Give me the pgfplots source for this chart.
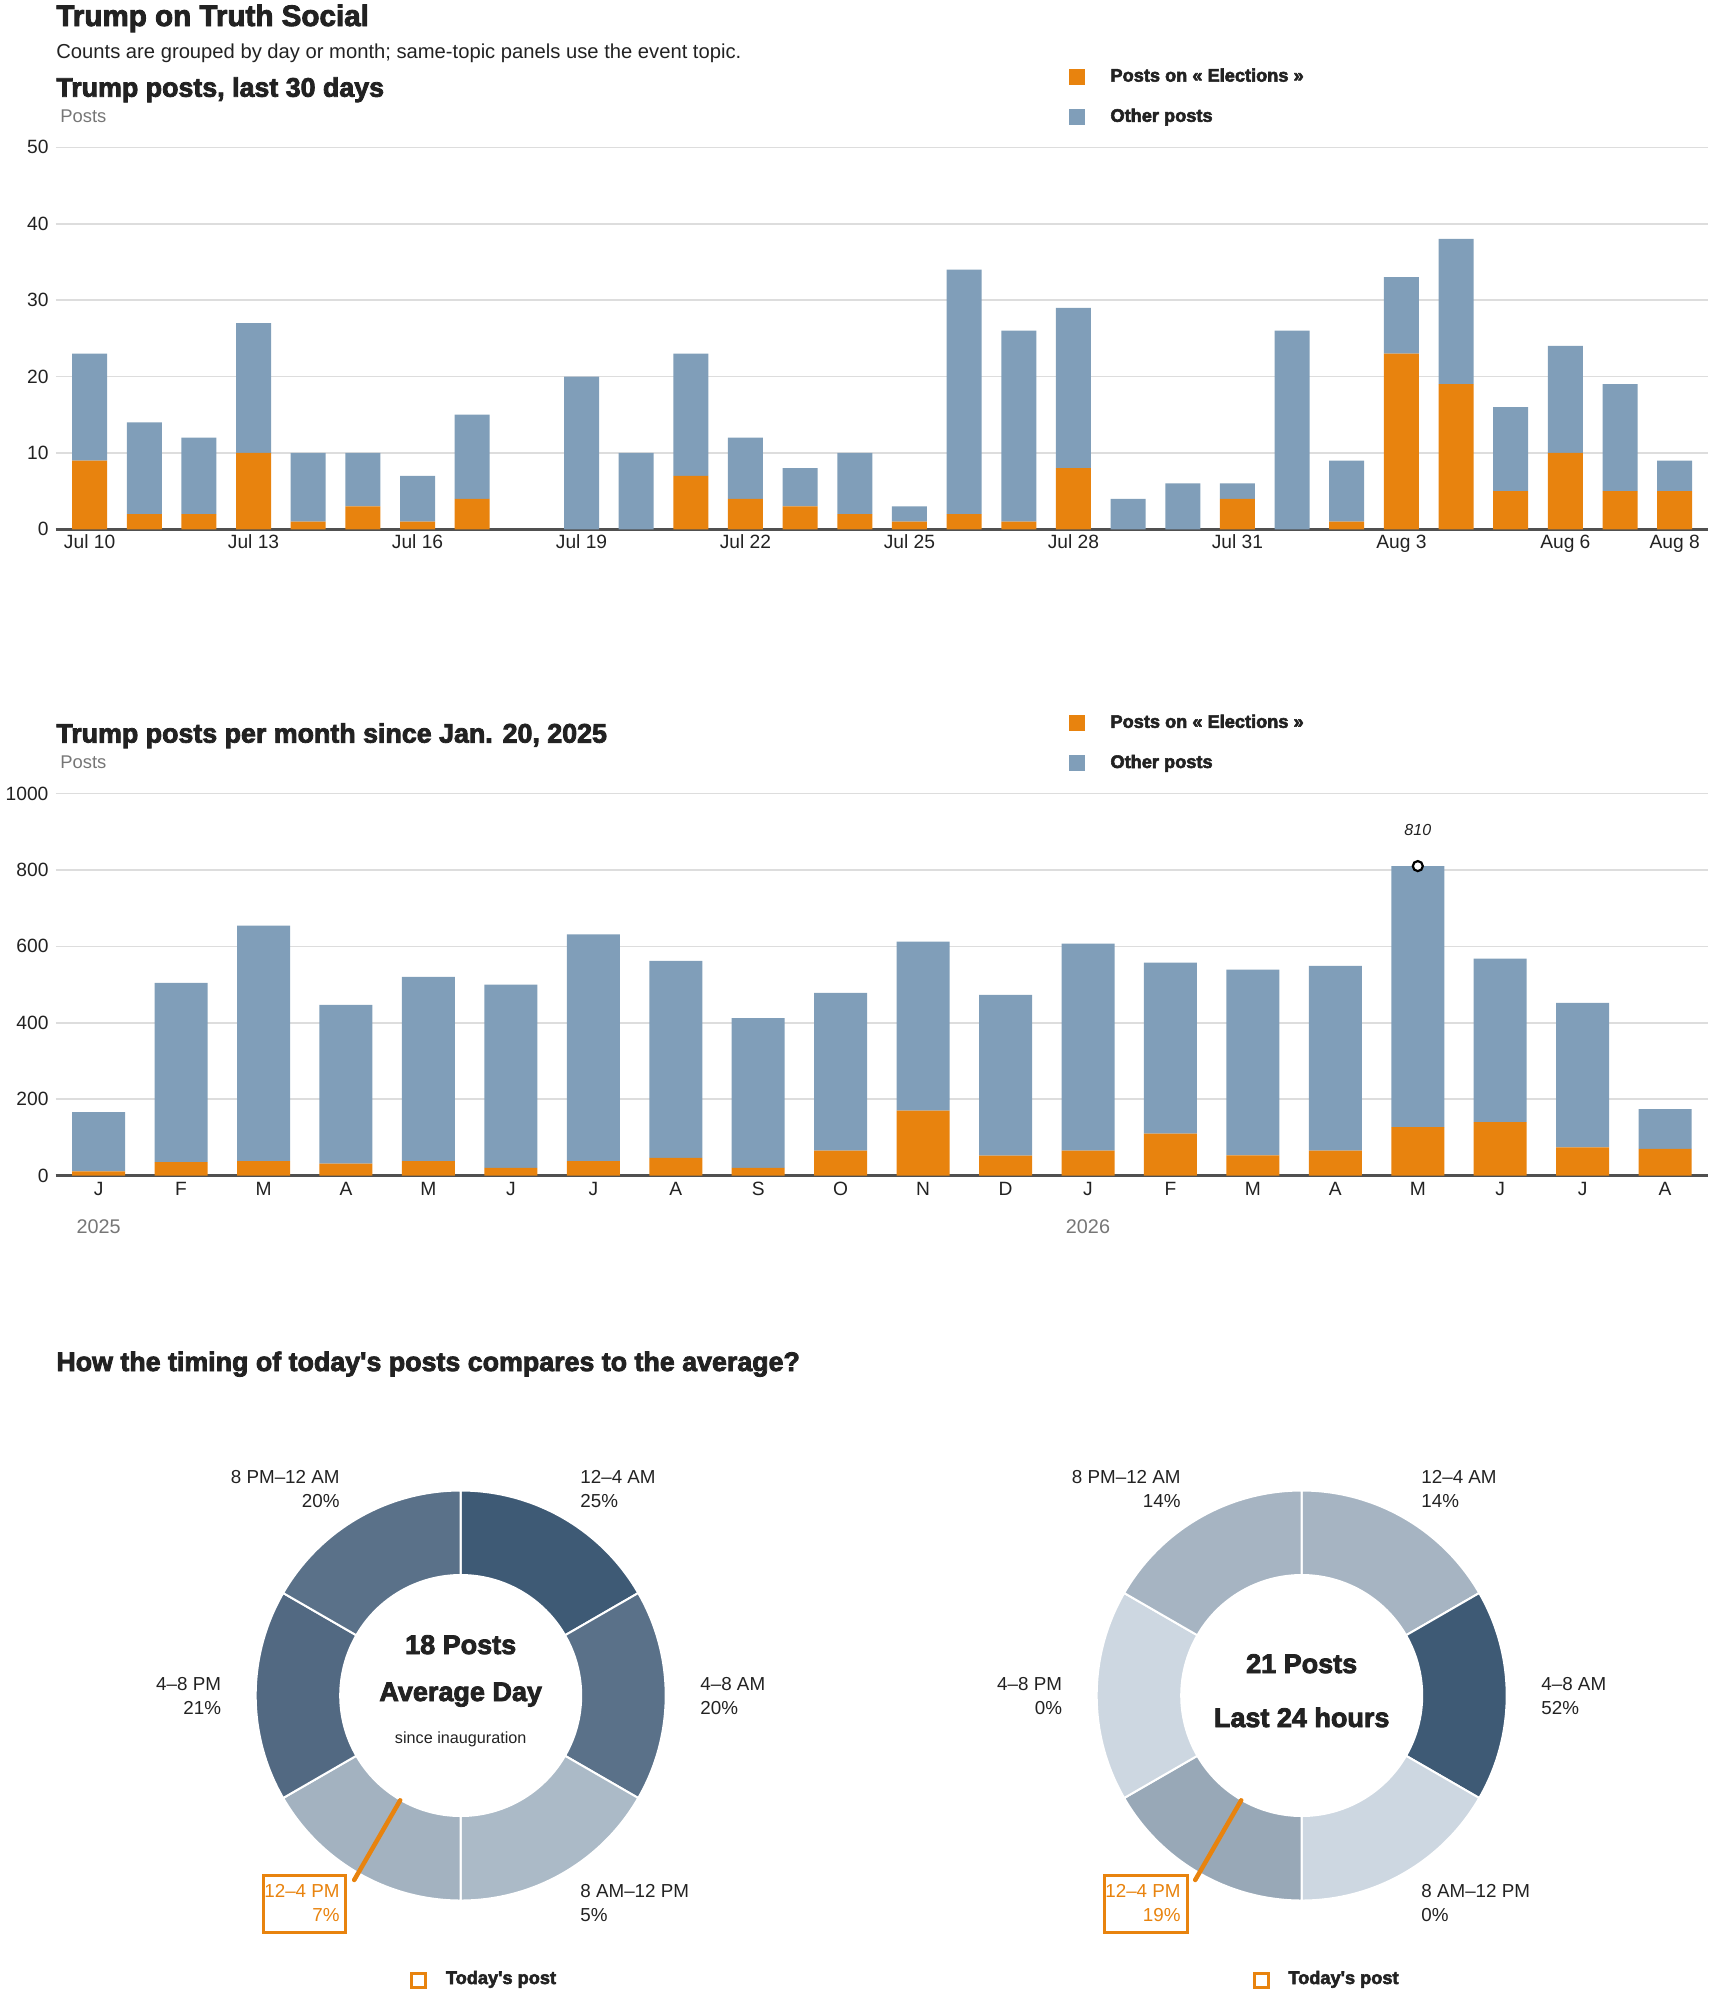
\documentclass[border=0pt]{standalone}
\usepackage{pgfplots}
\pgfplotsset{compat=1.18}
\usepackage{pgfplotstable}
\usepackage{fontspec}
\setmainfont{Liberation Sans}
\newfontfamily\heavy[BoldFeatures={FakeBold=3}]{Liberation Sans}
\newcommand\hv{\heavy\bfseries}
\newcommand\fs[1]{\fontsize{#1}{#1}\selectfont}

\definecolor{orng}{HTML}{E8830E}
\definecolor{bluep}{HTML}{809EB9}
\definecolor{gridc}{HTML}{DDDDDD}
\definecolor{basec}{HTML}{505050}
\definecolor{txt}{HTML}{222222}
\definecolor{graytxt}{HTML}{767676}
% donut shades
\definecolor{d25}{HTML}{3E5A75}
\definecolor{d20}{HTML}{5A7189}
\definecolor{d21}{HTML}{526982}
\definecolor{d5}{HTML}{ABBAC7}
\definecolor{d7}{HTML}{A3B2C0}
\definecolor{d14}{HTML}{A6B4C2}
\definecolor{d52}{HTML}{3E5A75}
\definecolor{d0}{HTML}{CDD7E1}
\definecolor{d19}{HTML}{98A8B7}

% daily counts, Jul 10 (0) .. Aug 8 (29)
\pgfplotstableread{
day elec other
0  9  14
1  2  12
2  2  10
3  10 17
4  1  9
5  3  7
6  1  6
7  4  11
8  0  0
9  0  20
10 0  10
11 7  16
12 4  8
13 3  5
14 2  8
15 1  2
16 2  32
17 1  25
18 8  21
19 0  4
20 0  6
21 4  2
22 0  26
23 1  8
24 23 10
25 19 19
26 5  11
27 10 14
28 5  14
29 5  4
}\daily

% monthly counts, Jan 2025 (0) .. Aug 2026 (19)
\pgfplotstableread{
m  elec other
0  11  155
1  35  469
2  38  616
3  31  416
4  38  482
5  20  480
6  38  593
7  46  516
8  20  392
9  65  413
10 170 442
11 52  421
12 65  542
13 110 447
14 53  486
15 65  484
16 127 683
17 140 428
18 74  378
19 70  104
}\monthly

\pgfplotsset{
  barchart/.style={
    scale only axis, width=826.25pt, height=191pt, anchor=south west, clip=false,
    ybar stacked, ymin=0,
    axis line style={draw=none}, tick style={draw=none},
    ymajorgrids, grid style={gridc, line width=0.8pt},
    tick label style={font=\fs{9.6}, text=txt},
    /pgf/number format/assume math mode=true,
    /pgf/number format/1000 sep={},
    legend cell align=left,
    legend style={draw=none, fill=none, inner sep=0pt, outer sep=0pt,
      anchor=north west, row sep=8pt, column sep=10.5pt,
      font=\hv\fs{9.1}, text=txt},
    legend image code/.code={\path[##1, draw=none] (0pt,-4pt) rectangle (8pt,4pt);},
  },
  donut/.style={
    scale only axis, width=250pt, height=250pt, anchor=south west, clip=false,
    hide axis, xmin=-250, xmax=250, ymin=-250, ymax=250,
  },
}

% one ring segment: start angle, end angle, colour
\newcommand\seg[3]{%
  \fill[#3, draw=white, line width=1pt]
    ([shift={(#1:102.5pt)}]axis cs:0,0) arc[start angle=#1, end angle=#2, radius=102.5pt]
    -- ([shift={(#2:60.25pt)}]axis cs:0,0) arc[start angle=#2, end angle=#1, radius=60.25pt]
    -- cycle;}
\newcommand\needle{%
  \draw[orng, line width=2.25pt, line cap=round]
    ([shift={(-120:60.5pt)}]axis cs:0,0) -- ([shift={(-120:106.5pt)}]axis cs:0,0);}

\begin{document}
\begin{tikzpicture}
\path[use as bounding box] (0,0) rectangle (855pt,-996.5pt);

% headings
\node[anchor=base west, inner sep=0pt, font=\hv\fs{14.8}, text=txt] at (28pt,-13pt) {Trump on Truth Social};
\node[anchor=base west, inner sep=0pt, font=\fs{10.1}, text=txt] at (28pt,-29.15pt) {Counts are grouped by day or month; same-topic panels use the event topic.};
\node[anchor=base west, inner sep=0pt, font=\hv\fs{13.4}, text=txt] at (28pt,-48.35pt) {Trump posts, last 30 days};
\node[anchor=base west, inner sep=0pt, font=\fs{9.2}, text=graytxt] at (30pt,-61pt) {Posts};
\node[anchor=base west, inner sep=0pt, font=\hv\fs{13.4}, text=txt] at (28pt,-371.3pt) {Trump posts per month since Jan. 20, 2025};
\node[anchor=base west, inner sep=0pt, font=\fs{9.2}, text=graytxt] at (30pt,-384pt) {Posts};
\node[anchor=base west, inner sep=0pt, font=\hv\fs{13.4}, text=txt] at (28pt,-685.5pt) {How the timing of today's posts compares to the average?};

% daily chart
\begin{axis}[barchart, at={(27.75pt,-264.65pt)},
  xmin=-0.624, xmax=29.61, ymax=50, ytick={0,10,...,50},
  bar width=17.5pt,
  xtick={0,3,6,9,12,15,18,21,24,27,29},
  xticklabels={Jul 10,Jul 13,Jul 16,Jul 19,Jul 22,Jul 25,Jul 28,Jul 31,Aug 3,Aug 6,Aug 8},
  xticklabel style={anchor=base, yshift=-9.6pt},
  legend style={at={(axis description cs:0.6136,1.217)}}]
\addplot[fill=orng, draw=none] table[x=day, y=elec] {\daily};
\addlegendentry{Posts on « Elections »}
\addplot[fill=bluep, draw=none] table[x=day, y=other] {\daily};
\addlegendentry{Other posts}
\draw[basec, line width=1.3pt] (rel axis cs:0,0) -- (rel axis cs:1,0);
\end{axis}

% monthly chart
\begin{axis}[barchart, at={(27.75pt,-587.75pt)},
  xmin=-0.523, xmax=19.52, ymax=1000, ytick={0,200,...,1000},
  bar width=26.5pt,
  xtick={0,...,19},
  xticklabels={J,F,M,A,M,J,J,A,S,O,N,D,J,F,M,A,M,J,J,A},
  xticklabel style={anchor=base, yshift=-9.75pt},
  legend style={at={(axis description cs:0.6136,1.217)}}]
\addplot[fill=orng, draw=none] table[x=m, y=elec] {\monthly};
\addlegendentry{Posts on « Elections »}
\addplot[fill=bluep, draw=none] table[x=m, y=other] {\monthly};
\addlegendentry{Other posts}
\draw[basec, line width=1.3pt] (rel axis cs:0,0) -- (rel axis cs:1,0);
\node[anchor=base, yshift=-28.75pt, font=\fs{9.9}, text=graytxt] at (axis cs:0,0) {2025};
\node[anchor=base, yshift=-28.75pt, font=\fs{9.9}, text=graytxt] at (axis cs:12,0) {2026};
\end{axis}

% peak marker on the monthly chart
\begin{axis}[scale only axis, width=826.25pt, height=191pt, anchor=south west,
  at={(27.75pt,-587.75pt)}, hide axis, clip=false,
  xmin=-0.523, xmax=19.52, ymin=0, ymax=1000]
\addplot[only marks, mark=*, mark size=2.5pt,
  mark options={draw=black, fill=white, line width=1.1pt}] coordinates {(16,810)};
\node[anchor=base, yshift=15.5pt, font=\itshape\fs{8}, text=txt] at (axis cs:16,810) {810};
\end{axis}

% average day donut
\begin{axis}[donut, at={(105.35pt,-972.75pt)}]
\seg{90}{30}{d25}      % 12-4 AM 25%
\seg{30}{-30}{d20}     % 4-8 AM 20%
\seg{-30}{-90}{d5}     % 8 AM-12 PM 5%
\seg{-90}{-150}{d7}    % 12-4 PM 7%
\seg{-150}{-210}{d21}  % 4-8 PM 21%
\seg{-210}{-270}{d20}  % 8 PM-12 AM 20%
\needle
\end{axis}

% last 24 hours donut
\begin{axis}[donut, at={(525.85pt,-972.75pt)}]
\seg{90}{30}{d14}      % 12-4 AM 14%
\seg{30}{-30}{d52}     % 4-8 AM 52%
\seg{-30}{-90}{d0}     % 8 AM-12 PM 0%
\seg{-90}{-150}{d19}   % 12-4 PM 19%
\seg{-150}{-210}{d0}   % 4-8 PM 0%
\seg{-210}{-270}{d14}  % 8 PM-12 AM 14%
\needle
\end{axis}

% donut labels
\begin{scope}[every node/.style={inner sep=0pt, font=\fs{9.4}, text=txt}]
\node[anchor=base east] at (170pt,-741.5pt) {8 PM--12 AM};
\node[anchor=base east] at (170pt,-753.5pt) {20\%};
\node[anchor=base west] at (290pt,-741.5pt) {12--4 AM};
\node[anchor=base west] at (290pt,-753.5pt) {25\%};
\node[anchor=base west] at (350pt,-845pt) {4--8 AM};
\node[anchor=base west] at (350pt,-857pt) {20\%};
\node[anchor=base east] at (110.7pt,-845pt) {4--8 PM};
\node[anchor=base east] at (110.7pt,-857pt) {21\%};
\node[anchor=base west] at (290pt,-948.5pt) {8 AM--12 PM};
\node[anchor=base west] at (290pt,-960.5pt) {5\%};
\node[anchor=base east, text=orng] at (170pt,-948.5pt) {12--4 PM};
\node[anchor=base east, text=orng] at (170pt,-960.5pt) {7\%};

\node[anchor=base east] at (590.5pt,-741.5pt) {8 PM--12 AM};
\node[anchor=base east] at (590.5pt,-753.5pt) {14\%};
\node[anchor=base west] at (710.5pt,-741.5pt) {12--4 AM};
\node[anchor=base west] at (710.5pt,-753.5pt) {14\%};
\node[anchor=base west] at (770.5pt,-845pt) {4--8 AM};
\node[anchor=base west] at (770.5pt,-857pt) {52\%};
\node[anchor=base east] at (531.2pt,-845pt) {4--8 PM};
\node[anchor=base east] at (531.2pt,-857pt) {0\%};
\node[anchor=base west] at (710.5pt,-948.5pt) {8 AM--12 PM};
\node[anchor=base west] at (710.5pt,-960.5pt) {0\%};
\node[anchor=base east, text=orng] at (590.5pt,-948.5pt) {12--4 PM};
\node[anchor=base east, text=orng] at (590.5pt,-960.5pt) {19\%};

\node[anchor=base, font=\hv\fs{13.5}] at (230.35pt,-827pt) {18 Posts};
\node[anchor=base, font=\hv\fs{13.5}] at (230.35pt,-850.5pt) {Average Day};
\node[anchor=base, font=\fs{8.1}] at (230.35pt,-871.5pt) {since inauguration};
\node[anchor=base, font=\hv\fs{13.5}] at (650.85pt,-836.5pt) {21 Posts};
\node[anchor=base, font=\hv\fs{13.5}] at (650.85pt,-863.5pt) {Last 24 hours};

\node[anchor=base west, font=\hv\fs{9.1}] at (222.75pt,-992pt) {Today's post};
\node[anchor=base west, font=\hv\fs{9.1}] at (644pt,-992pt) {Today's post};
\end{scope}
\draw[orng, line width=1.5pt] (131.5pt,-937.5pt) rectangle (172.5pt,-966pt);
\draw[orng, line width=1.5pt] (552pt,-937.5pt) rectangle (593.5pt,-966pt);
\draw[orng, line width=1.5pt] (205.5pt,-986.5pt) rectangle (212.5pt,-993.5pt);
\draw[orng, line width=1.5pt] (627pt,-986.5pt) rectangle (634pt,-993.5pt);
\end{tikzpicture}
\end{document}
